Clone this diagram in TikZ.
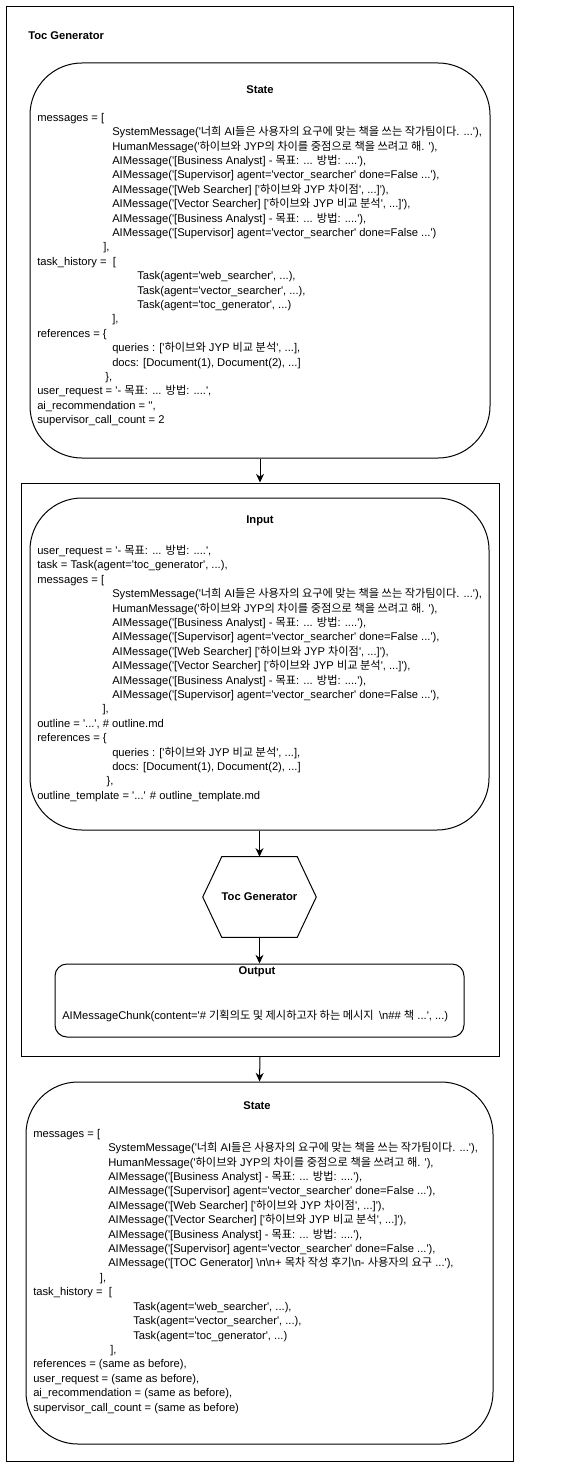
\documentclass[tikz,border=0pt]{standalone}
\usepackage{fontspec}
\setmainfont{Liberation Sans}[Ligatures=TeXOff]
\newfontfamily\krfont{Noto Sans CJK KR}[Scale=1.0]
\newcommand{\ko}[1]{{\krfont #1}}
\newcommand{\ind}[1]{\hspace*{#1}}
\newcommand{\bsn}{\textbackslash n}
\usetikzlibrary{arrows.meta, positioning}

\begin{document}
\begin{tikzpicture}[
  x=0.75pt, y=-0.75pt,
  >={Stealth[length=6.5pt, width=6pt]},
  every node/.style={font=\fontsize{8.4}{10.8}\selectfont},
  frame/.style={draw, line width=0.75pt, inner sep=0pt},
  statebox/.style={draw, rounded corners=39pt, line width=0.75pt, inner sep=0pt},
  outbox/.style={draw, rounded corners=9pt, line width=0.75pt, inner sep=0pt},
  agent/.style={minimum width=84.75pt, minimum height=60pt, inner sep=0pt,
                font=\fontsize{8.4}{10.8}\selectfont\bfseries},
  ttl/.style={font=\fontsize{8.4}{10.8}\selectfont\bfseries},
  body/.style={align=left, anchor=north west, inner sep=0pt},
  flow/.style={->, line width=0.75pt},
]
\useasboundingbox (0,0) rectangle (561,1473);

% outer frame and title
\node[frame, minimum width=380.25pt, minimum height=1090.5pt] (outer) at (259.5,734) {};
\node[ttl, anchor=west, inner sep=0pt] (title) at (28,36) {Toc Generator};

% state before
\node[statebox, minimum width=345pt, minimum height=296.25pt] (st1) at (260,260.5) {};
\node[ttl] (st1t) at (260,90) {State};
\node[body] (st1b) at (37,113) {messages = [\\
\ind{56.25pt}SystemMessage('\ko{너희} AI\ko{들은 사용자의 요구에 맞는 책을 쓰는 작가팀이다}. ...'),\\
\ind{56.25pt}HumanMessage('\ko{하이브와} JYP\ko{의 차이를 중점으로 책을 쓰려고 해}. '),\\
\ind{56.25pt}AIMessage('[Business Analyst] - \ko{목표}: ... \ko{방법}: ....'),\\
\ind{56.25pt}AIMessage('[Supervisor] agent='vector\_searcher' done=False ...'),\\
\ind{56.25pt}AIMessage('[Web Searcher] ['\ko{하이브와} JYP \ko{차이점}', ...]'),\\
\ind{56.25pt}AIMessage('[Vector Searcher] ['\ko{하이브와} JYP \ko{비교 분석}', ...]'),\\
\ind{56.25pt}AIMessage('[Business Analyst] - \ko{목표}: ... \ko{방법}: ....'),\\
\ind{56.25pt}AIMessage('[Supervisor] agent='vector\_searcher' done=False ...')\\
\ind{49.5pt}],\\
task\_history = \ [\\
\ind{75pt}Task(agent='web\_searcher', ...),\\
\ind{75pt}Task(agent='vector\_searcher', ...),\\
\ind{75pt}Task(agent='toc\_generator', ...)\\
\ind{56.25pt}],\\
references = \{\\
\ind{56.25pt}queries : ['\ko{하이브와} JYP \ko{비교 분석}', ...],\\
\ind{56.25pt}docs: [Document(1), Document(2), ...]\\
\ind{51pt}\},\\
user\_request = '- \ko{목표}: ... \ko{방법}: ....',\\
ai\_recommendation = '',\\
supervisor\_call\_count = 2};

% agent run
\node[frame, minimum width=358.5pt, minimum height=429.75pt] (run) at (260,769.5) {};
\node[statebox, minimum width=344.25pt, minimum height=249pt] (inp) at (259.5,664) {};
\node[ttl] (inpt) at (260,521) {Input};
\node[body] (inpb) at (37,545) {user\_request = '- \ko{목표}: ... \ko{방법}: ....',\\
task = Task(agent='toc\_generator', ...),\\
messages = [\\
\ind{56.25pt}SystemMessage('\ko{너희} AI\ko{들은 사용자의 요구에 맞는 책을 쓰는 작가팀이다}. ...'),\\
\ind{56.25pt}HumanMessage('\ko{하이브와} JYP\ko{의 차이를 중점으로 책을 쓰려고 해}. '),\\
\ind{56.25pt}AIMessage('[Business Analyst] - \ko{목표}: ... \ko{방법}: ....'),\\
\ind{56.25pt}AIMessage('[Supervisor] agent='vector\_searcher' done=False ...'),\\
\ind{56.25pt}AIMessage('[Web Searcher] ['\ko{하이브와} JYP \ko{차이점}', ...]'),\\
\ind{56.25pt}AIMessage('[Vector Searcher] ['\ko{하이브와} JYP \ko{비교 분석}', ...]'),\\
\ind{56.25pt}AIMessage('[Business Analyst] - \ko{목표}: ... \ko{방법}: ....'),\\
\ind{56.25pt}AIMessage('[Supervisor] agent='vector\_searcher' done=False ...'),\\
\ind{49pt}],\\
outline = '...', \# outline.md\\
references = \{\\
\ind{56.25pt}queries : ['\ko{하이브와} JYP \ko{비교 분석}', ...],\\
\ind{56.25pt}docs: [Document(1), Document(2), ...]\\
\ind{52pt}\},\\
outline\_template = '...' \# outline\_template.md};

% hexagon
\node[agent] (gen) at (259.5,897) {Toc Generator};
\draw[line width=0.75pt] ([xshift=14.25pt]gen.north west) -- ([xshift=-14.25pt]gen.north east)
  -- (gen.east) -- ([xshift=-14.25pt]gen.south east) -- ([xshift=14.25pt]gen.south west)
  -- (gen.west) -- cycle;

\node[outbox, minimum width=306.75pt, minimum height=54.75pt] (out) at (259.5,1000.5) {};
\node[ttl] (outt) at (257,972) {Output};
\node[anchor=west, inner sep=0pt] (outb) at (62,1016) {AIMessageChunk(content='\# \ko{기획의도 및 제시하고자 하는 메시지}\hspace{4pt}\bsn\#\# \ko{책} ...', ...)};

% state after
\node[statebox, minimum width=350.25pt, minimum height=271.5pt] (st2) at (259.5,1263) {};
\node[ttl] (st2t) at (257,1106) {State};
\node[body] (st2b) at (33,1129) {messages = [\\
\ind{56.25pt}SystemMessage('\ko{너희} AI\ko{들은 사용자의 요구에 맞는 책을 쓰는 작가팀이다}. ...'),\\
\ind{56.25pt}HumanMessage('\ko{하이브와} JYP\ko{의 차이를 중점으로 책을 쓰려고 해}. '),\\
\ind{56.25pt}AIMessage('[Business Analyst] - \ko{목표}: ... \ko{방법}: ....'),\\
\ind{56.25pt}AIMessage('[Supervisor] agent='vector\_searcher' done=False ...'),\\
\ind{56.25pt}AIMessage('[Web Searcher] ['\ko{하이브와} JYP \ko{차이점}', ...]'),\\
\ind{56.25pt}AIMessage('[Vector Searcher] ['\ko{하이브와} JYP \ko{비교 분석}', ...]'),\\
\ind{56.25pt}AIMessage('[Business Analyst] - \ko{목표}: ... \ko{방법}: ....'),\\
\ind{56.25pt}AIMessage('[Supervisor] agent='vector\_searcher' done=False ...'),\\
\ind{56.25pt}AIMessage('[TOC Generator] \bsn\bsn+ \ko{목차 작성 후기}\bsn- \ko{사용자의 요구} ...'),\\
\ind{50pt}],\\
task\_history = \ [\\
\ind{75pt}Task(agent='web\_searcher', ...),\\
\ind{75pt}Task(agent='vector\_searcher', ...),\\
\ind{75pt}Task(agent='toc\_generator', ...)\\
\ind{57.75pt}],\\
references = (same as before),\\
user\_request = (same as before),\\
ai\_recommendation = (same as before),\\
supervisor\_call\_count = (same as before)};

\draw[flow] (st1.south) -- (run.north);
\draw[flow] (inp.south) -- (gen.north);
\draw[flow] (gen.south) -- (out.north);
\draw[flow] (run.south) -- (st2.north);
\end{tikzpicture}
\end{document}
